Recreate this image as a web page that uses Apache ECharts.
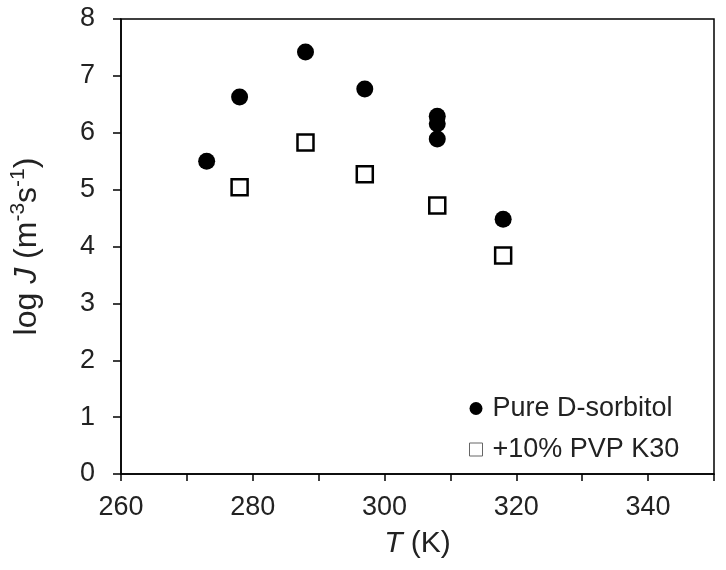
<!DOCTYPE html>
<html>
<head>
<meta charset="utf-8">
<script src="https://cdn.jsdelivr.net/npm/echarts@6/dist/echarts.min.js"></script>
<style>html,body{margin:0;padding:0;background:#fff}#c{width:726px;height:570px}</style>
</head>
<body>
<div id="c"></div>
<script>
var pureT = [273, 278, 288, 297, 308, 308, 308, 318];
var pureLogJ = [5.50, 6.63, 7.42, 6.77, 6.29, 6.16, 5.89, 4.48];
var pvpT = [278, 288, 297, 308, 318];
var pvpLogJ = [5.04, 5.83, 5.27, 4.72, 3.84];
var xTicks = [260, 280, 300, 320, 340];
var yTicks = [0, 1, 2, 3, 4, 5, 6, 7, 8];
var seriesNames = ['Pure D-sorbitol', '+10% PVP K30'];

function zip(a, b) { return a.map(function (v, i) { return [v, b[i]]; }); }

var FONT = 'Liberation Sans';
var TXT = '#222';
var chart = echarts.init(document.getElementById('c'), null, {renderer: 'canvas'});
chart.setOption({
  animation: false,
  backgroundColor: '#fff',
  textStyle: {fontFamily: FONT},
  grid: {left: 115, right: 12, top: 19, bottom: 96, show: true, borderColor: '#000', borderWidth: 1.5, backgroundColor: 'transparent'},
  xAxis: {
    type: 'value', min: 260, max: 350, interval: 10,
    axisLine: {show: true, lineStyle: {color: '#000', width: 1.5}},
    axisTick: {show: true, length: 7, lineStyle: {color: '#000', width: 1.5}},
    splitLine: {show: false},
    axisLabel: {
      margin: 20, fontSize: 27, color: TXT, fontFamily: FONT,
      formatter: function (v) { return xTicks.indexOf(v) >= 0 ? String(v) : ''; }
    },
    name: '{i|T} (K)', nameLocation: 'middle', nameGap: 55,
    nameTextStyle: {fontSize: 30, color: TXT, fontFamily: FONT,
      rich: {i: {fontStyle: 'italic', fontSize: 30, color: TXT, fontFamily: FONT}}}
  },
  yAxis: {
    type: 'value', min: 0, max: 8, interval: 1,
    axisLine: {show: true, lineStyle: {color: '#000', width: 1.5}},
    axisTick: {show: true, length: 8, lineStyle: {color: '#000', width: 1.5}},
    splitLine: {show: false},
    axisLabel: {
      margin: 26, fontSize: 27, color: TXT, fontFamily: FONT,
      formatter: function (v) { return yTicks.indexOf(v) >= 0 ? String(v) : ''; }
    },
    name: '{n|log }{i|J}{n| (m}{s|-3}{n|s}{s|-1}{n|)}', nameLocation: 'middle', nameGap: 75, nameRotate: 90,
    nameTextStyle: {fontSize: 32, color: TXT, fontFamily: FONT,
      rich: {
        n: {fontSize: 32, color: TXT, fontFamily: FONT, lineHeight: 38},
        i: {fontStyle: 'italic', fontSize: 32, color: TXT, fontFamily: FONT, lineHeight: 38},
        s: {fontSize: 21, color: TXT, fontFamily: FONT, verticalAlign: 'top', lineHeight: 21}
      }}
  },
  legend: {
    orient: 'vertical', left: 464, top: 390, itemGap: 14,
    itemWidth: 13, itemHeight: 13,
    textStyle: {fontSize: 27, color: TXT, fontFamily: FONT, padding: [0, 0, 0, 5]},
    data: [
      {name: seriesNames[0], icon: 'circle', itemStyle: {color: '#000', borderWidth: 0}},
      {name: seriesNames[1], icon: 'rect', itemStyle: {color: '#fff', borderColor: '#666', borderWidth: 1}}
    ]
  },
  series: [
    {
      name: seriesNames[0], type: 'scatter', symbol: 'circle', symbolSize: 17,
      itemStyle: {color: '#000', opacity: 1},
      data: zip(pureT, pureLogJ), z: 3
    },
    {
      name: seriesNames[1], type: 'scatter', symbol: 'rect', symbolSize: 16,
      itemStyle: {color: '#fff', borderColor: '#000', borderWidth: 2.5, opacity: 1},
      data: zip(pvpT, pvpLogJ), z: 2
    }
  ]
});
</script>
</body>
</html>
